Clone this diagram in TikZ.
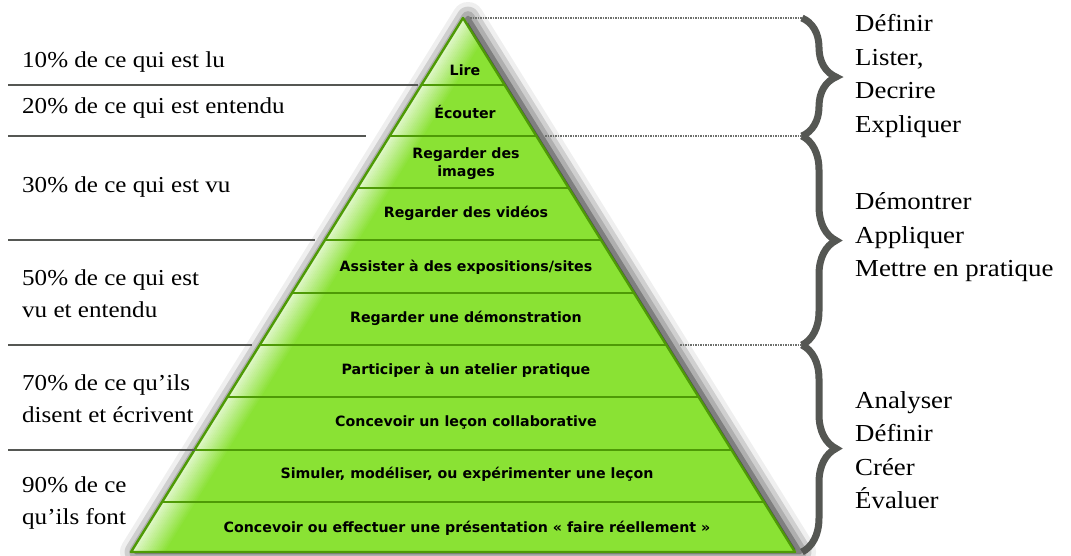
\documentclass[tikz,border=0pt]{standalone}
\usepackage{fontspec}
\setmainfont[FakeStretch=1.1]{Liberation Serif}
\newfontfamily\pyrfont{DejaVu Sans}
\usetikzlibrary{calc,decorations.pathreplacing,shadows.blur}

\definecolor{leaf}{HTML}{8AE234}
\definecolor{leafdark}{HTML}{4E9A06}
\definecolor{alu}{HTML}{555753}

\begin{document}
\begin{tikzpicture}[x=1pt,y=-1pt,
  layer/.style={font=\pyrfont\bfseries\fontsize{14.2}{18}\selectfont, align=center, inner sep=0pt},
  lbl/.style={font=\fontsize{22.8}{32}\selectfont, anchor=west, align=left, inner sep=0pt},
  verb/.style={font=\fontsize{24.4}{33.5}\selectfont, anchor=west, align=left, inner sep=0pt},
  rule/.style={alu, line width=2.8pt},
  guide/.style={alu!85, line width=2pt, dash pattern=on 1.5pt off 1pt},
  bracket/.style={alu, line width=7pt, line join=miter, miter limit=20,
    decorate, decoration={brace, amplitude=34pt}}]

\useasboundingbox (0,0) rectangle (1071,555);

\def\ax{463} \def\ay{18} \def\by{552} \def\hw{332}
\coordinate (apex) at (\ax,\ay);
\coordinate (bl) at (\ax-\hw,\by);
\coordinate (br) at (\ax+\hw,\by);

% pyramid body
\fill[leaf, blur shadow={shadow xshift=5pt, shadow yshift=0pt,
  shadow blur radius=16pt, shadow opacity=100}] (apex) -- (bl) -- (br) -- cycle;
\begin{scope}
 \clip (apex) -- (bl) -- (br) -- cycle;
 \foreach \i in {0,...,17}{
  \pgfmathsetmacro{\m}{25+75*\i/17}
  \draw[leaf!\m!white, line width=2.2pt]
    ($(apex)+(2*\i+1,0)$) -- ($(bl)+(2*\i+1,0)$);
 }
\end{scope}
\foreach \y in {85,136,188,240,293,345,397,450,502}
 \draw[leafdark, line width=1.6pt]
   ($(apex)!{(\y-\ay)/(\by-\ay)}!(bl)$) -- ($(apex)!{(\y-\ay)/(\by-\ay)}!(br)$);
\draw[leafdark, line width=2.4pt, line join=round] (apex) -- (bl) -- (br) -- cycle;

% layers
\node[layer] (lire)   at (465,70)  {Lire};
\node[layer] (ecout)  at (465,112) {Écouter};
\node[layer] (images) at (466,164) {Regarder des\\images};
\node[layer] (videos) at (466,213) {Regarder des vidéos};
\node[layer] (expo)   at (466,267) {Assister à des expositions/sites};
\node[layer] (demo)   at (466,318) {Regarder une démonstration};
\node[layer] (atel)   at (466,370) {Participer à un atelier pratique};
\node[layer] (collab) at (466,422) {Concevoir un leçon collaborative};
\node[layer] (simul)  at (467,474) {Simuler, modéliser, ou expérimenter une leçon};
\node[layer] (faire)  at (467,528) {Concevoir ou effectuer une présentation « faire réellement »};

% left side
\draw[rule] (8,85) -- (418,85);
\draw[rule] (8,136) -- (366,136);
\draw[rule] (8,240) -- (315,240);
\draw[rule] (8,345) -- (252,345);
\draw[rule] (8,450) -- (195,450);

\node[lbl] (lu)     at (22,62)    {10\% de ce qui est lu};
\node[lbl] (entend) at (22,108)   {20\% de ce qui est entendu};
\node[lbl] (vu)     at (22,187)   {30\% de ce qui est vu};
\node[lbl] (vuent)  at (22,294)   {50\% de ce qui est\\vu et entendu};
\node[lbl] (disent) at (22,398.5) {70\% de ce qu’ils\\disent et écrivent};
\node[lbl] (font)   at (22,503)   {90\% de ce\\qu’ils font};

% right side
\draw[guide] (470,18) -- (805,18);
\draw[guide] (545,136) -- (805,136);
\draw[guide] (680,345) -- (805,345);

\draw[bracket] (802,18) -- (802,136);
\draw[bracket] (802,136) -- (802,345);
\draw[bracket] (802,345) -- (802,552);

\node[verb] (v1) at (855,76)    {Définir\\Lister,\\Decrire\\Expliquer};
\node[verb] (v2) at (855,237.5) {Démontrer\\Appliquer\\Mettre en pratique};
\node[verb] (v3) at (855,450)   {Analyser\\Définir\\Créer\\Évaluer};
\end{tikzpicture}
\end{document}
